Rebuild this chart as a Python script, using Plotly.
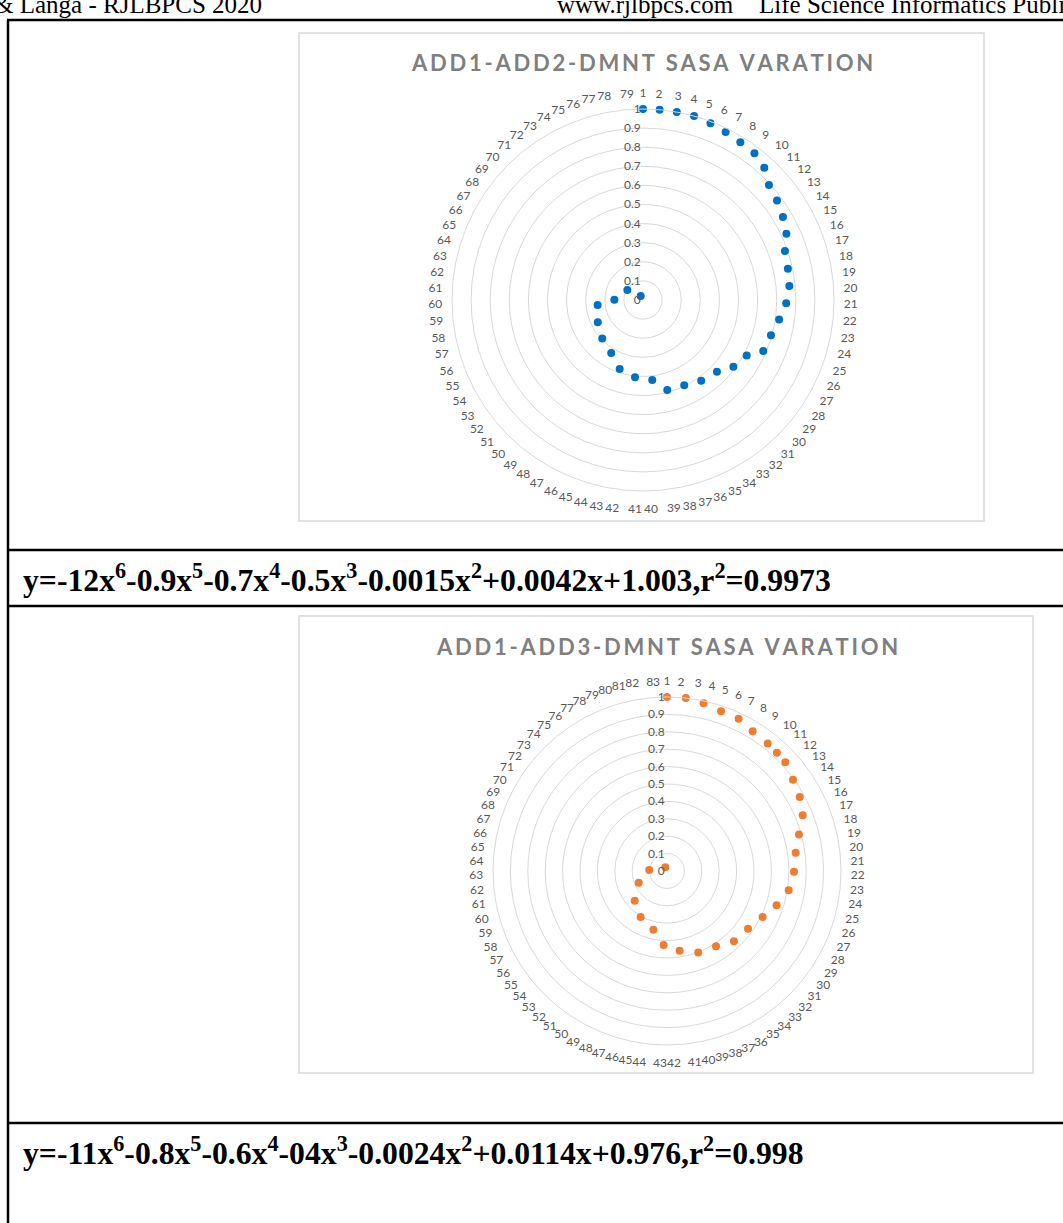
import plotly.graph_objects as go

W, H = 1063, 1223

# ---------------- data ----------------
cats1 = [str(k) for k in range(1, 80)]
cats2 = [str(k) for k in range(1, 84)]
radial_ticks = [0, 0.1, 0.2, 0.3, 0.4, 0.5, 0.6, 0.7, 0.8, 0.9, 1]
radial_ticktext = ["0", "0.1", "0.2", "0.3", "0.4", "0.5", "0.6", "0.7", "0.8", "0.9", "1"]

# series 1 (ADD1-ADD2-DMNT): angle (deg, clockwise from top) and value
angle1 = [0, 5.0, 10.2, 15.5, 20.9, 26.2, 31.7, 37.2, 42.5, 47.6, 53.4, 59.3, 65.2, 71.0,
          77.8, 84.5, 91.3, 98.2, 105.4, 113.0, 118.2, 126.4, 134.1, 144.2, 154.2, 164.9,
          173.4, 185.9, 198.7, 210.9, 226.7, 243.8, 263.7, 270.6, 302.5, 330.0]
value1 = [1.0, 1.0, 1.0, 1.0, 0.99, 0.98, 0.97, 0.965, 0.94, 0.893, 0.874, 0.852, 0.827,
          0.786, 0.776, 0.77, 0.75, 0.72, 0.695, 0.684, 0.616, 0.588, 0.539, 0.521, 0.496,
          0.488, 0.421, 0.407, 0.381, 0.324, 0.293, 0.264, 0.239, 0.150, 0.097, 0.024]

# series 2 (ADD1-ADD3-DMNT)
angle2 = [0, 6.2, 12.3, 18.7, 25.2, 31.5, 38.3, 42.9, 47.4, 54.1, 60.9, 67.7, 74.5, 81.9,
          90.3, 99.0, 107.4, 115.7, 125.5, 136.4, 146.9, 159.0, 171.0, 182.6, 193.0, 209.8,
          227.4, 247.5, 273.0, 335.0]
value2 = [1.0, 1.0, 0.987, 0.969, 0.967, 0.942, 0.934, 0.928, 0.924, 0.894, 0.873, 0.843,
          0.787, 0.747, 0.730, 0.708, 0.660, 0.610, 0.572, 0.558, 0.516, 0.501, 0.464,
          0.426, 0.347, 0.305, 0.252, 0.176, 0.102, 0.023]

title1 = "ADD1-ADD2-DMNT SASA VARATION"
title2 = "ADD1-ADD3-DMNT SASA VARATION"
eq1 = "y=-12x<sup>6</sup>-0.9x<sup>5</sup>-0.7x<sup>4</sup>-0.5x<sup>3</sup>-0.0015x<sup>2</sup>+0.0042x+1.003,r<sup>2</sup>=0.9973"
eq2 = "y=-11x<sup>6</sup>-0.8x<sup>5</sup>-0.6x<sup>4</sup>-04x<sup>3</sup>-0.0024x<sup>2</sup>+0.0114x+0.976,r<sup>2</sup>=0.998"
header = ["& Langa - RJLBPCS 2020", "www.rjlbpcs.com", "Life Science Informatics Publications"]

# ---------------- helpers ----------------
def px(x):
    return x / W

def py(y):
    return 1 - y / H

def spaced(s):
    return "\u2009".join(list(s))

TXT = "#595959"
GRID = "#d9d9d9"

fig = go.Figure()

def polar_cfg(cx, cy, R, cats):
    n = len(cats)
    return dict(
        domain=dict(x=[px(cx - R), px(cx + R)], y=[py(cy + R), py(cy - R)]),
        bgcolor="rgba(0,0,0,0)",
        radialaxis=dict(range=[0, 1], tickvals=radial_ticks, ticktext=radial_ticktext,
                        angle=90, tickangle=90, side="counterclockwise", showline=False,
                        ticks="", gridcolor=GRID, gridwidth=1,
                        tickfont=dict(family="Lato", size=12, color=TXT)),
        angularaxis=dict(type="linear", thetaunit="degrees", direction="clockwise",
                         rotation=90, tickmode="array",
                         tickvals=[i * 360.0 / n for i in range(n)], ticktext=cats,
                         showgrid=False, ticks="outside", ticklen=7,
                         tickcolor="rgba(0,0,0,0)", showline=True, linecolor=GRID,
                         linewidth=1, tickfont=dict(family="Lato", size=12, color=TXT)),
    )

fig.add_trace(go.Scatterpolar(r=value1, theta=angle1, mode="markers",
                              marker=dict(size=8, color="#0070C0"), subplot="polar",
                              showlegend=False, hoverinfo="skip"))
fig.add_trace(go.Scatterpolar(r=value2, theta=angle2, mode="markers",
                              marker=dict(size=8, color="#ED7D31"), subplot="polar2",
                              showlegend=False, hoverinfo="skip"))

shapes = []
# chart boxes
shapes.append(dict(type="rect", xref="paper", yref="paper", x0=px(299), x1=px(984),
                   y0=py(521), y1=py(33), line=dict(color="#d9d9d9", width=1.5)))
shapes.append(dict(type="rect", xref="paper", yref="paper", x0=px(299), x1=px(1033),
                   y0=py(1073), y1=py(616), line=dict(color="#d9d9d9", width=1.5)))
# table lines
for yy in [20, 550, 606, 1123]:
    shapes.append(dict(type="line", xref="paper", yref="paper", x0=px(7), x1=1,
                       y0=py(yy), y1=py(yy), line=dict(color="black", width=2.5)))
shapes.append(dict(type="line", xref="paper", yref="paper", x0=px(8), x1=px(8),
                   y0=py(20), y1=0, line=dict(color="black", width=2.5)))

ann = []
ann.append(dict(text="<b>" + spaced(title1) + "</b>", x=px(642), y=py(62), xref="paper",
                yref="paper", showarrow=False, xanchor="center", yanchor="middle",
                font=dict(family="Lato", size=22, color="#7f7f7f")))
ann.append(dict(text="<b>" + spaced(title2) + "</b>", x=px(667), y=py(646), xref="paper",
                yref="paper", showarrow=False, xanchor="center", yanchor="middle",
                font=dict(family="Lato", size=22, color="#7f7f7f")))
for t, yy in [(eq1, 578), (eq2, 1151)]:
    ann.append(dict(text="<b>" + t + "</b>", x=px(21), y=py(yy), xref="paper", yref="paper",
                    showarrow=False, xanchor="left", yanchor="middle",
                    font=dict(family="Liberation Serif", size=31.7, color="black")))
for t, xx in zip(header, [-8, 555, 757]):
    ann.append(dict(text=t, x=px(xx), y=py(20), xref="paper", yref="paper",
                    showarrow=False, xanchor="left", yanchor="bottom",
                    font=dict(family="Liberation Serif", size=25, color="black")))

fig.update_layout(
    width=W, height=H, margin=dict(l=0, r=0, t=0, b=0),
    paper_bgcolor="white", plot_bgcolor="white",
    polar=polar_cfg(643, 300, 191, cats1),
    polar2=polar_cfg(667, 871, 174, cats2),
    shapes=shapes, annotations=ann,
)

fig.write_html("out.html", config={"displayModeBar": False},
               post_script="document.body.style.margin='0';document.body.style.overflow='hidden';")
